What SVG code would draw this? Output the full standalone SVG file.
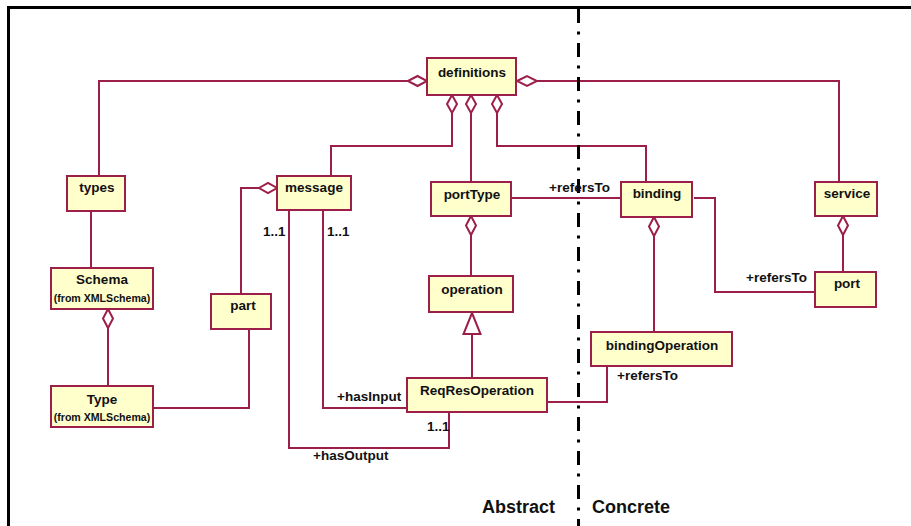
<svg xmlns="http://www.w3.org/2000/svg" width="911" height="526" viewBox="0 0 911 526">
  <style>
    .box { fill: #FFFFCC; stroke: #9C1F4A; stroke-width: 2; }
    .name { font-family: "Liberation Sans", Arial, sans-serif; font-weight: bold; font-size: 13.5px; fill: #111; text-anchor: middle; }
    .sub { font-family: "Liberation Sans", Arial, sans-serif; font-weight: bold; font-size: 10.6px; fill: #111; text-anchor: middle; }
    .lbl { font-family: "Liberation Sans", Arial, sans-serif; font-weight: bold; font-size: 13.5px; fill: #111; }
    .big { font-family: "Liberation Sans", Arial, sans-serif; font-weight: bold; font-size: 18px; fill: #111; }
    .wire { fill: none; stroke: #9C1F4A; stroke-width: 2; }
    .agg { fill: #FFFFFF; stroke: #9C1F4A; stroke-width: 2; }
  </style>
  <rect width="911" height="526" fill="#FFFFFF"/>

  <!-- connectors -->
  <g id="connectors">
    <!-- definitions aggregations -->
    <polyline class="wire" points="99,176 99,81 408,81"/>
    <polygon class="agg" points="408,81 417.5,76 427,81 417.5,86"/>
    <polyline class="wire" points="537,81 839,81 839,182"/>
    <polygon class="agg" points="517,81 527,76 537,81 527,86"/>
    <polyline class="wire" points="452,113 452,146 331,146 331,176"/>
    <polygon class="agg" points="452,95 457,104 452,113 447,104"/>
    <polyline class="wire" points="471,113 471,182"/>
    <polygon class="agg" points="471,95 476,104 471,113 466,104"/>
    <polyline class="wire" points="497,113 497,146 646,146 646,182"/>
    <polygon class="agg" points="497,95 502,104 497,113 492,104"/>

    <!-- types / schema side -->
    <polyline class="wire" points="91,211 91,268"/>
    <polyline class="wire" points="108,328 108,386"/>
    <polygon class="agg" points="108,309 113,318.5 108,328 103,318.5"/>
    <polyline class="wire" points="153,408 249,408 249,329"/>

    <!-- message -->
    <polyline class="wire" points="259,188 241,188 241,294"/>
    <polygon class="agg" points="259,188 268,183 277,188 268,193"/>
    <polyline class="wire" points="323,210 323,408 407,408"/>
    <polyline class="wire" points="289,210 289,448 449,448 449,412"/>

    <!-- portType / operation -->
    <polyline class="wire" points="471,235 471,276"/>
    <polygon class="agg" points="471,216 476,225.5 471,235 466,225.5"/>
    <polyline class="wire" points="472,334 472,378"/>
    <polygon class="agg" points="472,313 480.5,334 463.5,334"/>
    <polyline class="wire" points="511,198 621,198"/>

    <!-- binding -->
    <polyline class="wire" points="654,236 654,332"/>
    <polygon class="agg" points="654,217 659,226.5 654,236 649,226.5"/>
    <polyline class="wire" points="694,198 715,198 715,292 815,292"/>
    <polyline class="wire" points="547,402 607,402 607,366"/>

    <!-- service -->
    <polyline class="wire" points="843,235 843,272"/>
    <polygon class="agg" points="843,216 848,225.5 843,235 838,225.5"/>
  </g>

  <!-- nodes -->
  <g id="definitions">
    <rect class="box" x="427" y="58" width="89" height="37"/>
    <text class="name" x="472" y="77">definitions</text>
  </g>
  <g id="types">
    <rect class="box" x="67" y="176" width="58" height="35"/>
    <text class="name" x="97" y="192">types</text>
  </g>
  <g id="message">
    <rect class="box" x="277" y="176" width="74" height="34"/>
    <text class="name" x="314" y="192">message</text>
  </g>
  <g id="portType">
    <rect class="box" x="431" y="182" width="80" height="34"/>
    <text class="name" x="472" y="198.5">portType</text>
  </g>
  <g id="binding">
    <rect class="box" x="621" y="182" width="71" height="35"/>
    <text class="name" x="657" y="198">binding</text>
  </g>
  <g id="service">
    <rect class="box" x="815" y="182" width="62" height="34"/>
    <text class="name" x="847" y="198">service</text>
  </g>
  <g id="Schema">
    <rect class="box" x="51" y="268" width="102" height="41"/>
    <text class="name" x="102" y="284">Schema</text>
    <text class="sub" x="102" y="302">(from XMLSchema)</text>
  </g>
  <g id="Type">
    <rect class="box" x="51" y="386" width="102" height="41"/>
    <text class="name" x="102" y="403.5">Type</text>
    <text class="sub" x="102" y="421">(from XMLSchema)</text>
  </g>
  <g id="part">
    <rect class="box" x="211" y="294" width="60" height="35"/>
    <text class="name" x="243" y="310">part</text>
  </g>
  <g id="operation">
    <rect class="box" x="429" y="276" width="84" height="36"/>
    <text class="name" x="472" y="293.5">operation</text>
  </g>
  <g id="port">
    <rect class="box" x="815" y="272" width="61" height="35"/>
    <text class="name" x="847" y="288">port</text>
  </g>
  <g id="bindingOperation">
    <rect class="box" x="591" y="332" width="141" height="34"/>
    <text class="name" x="662" y="349.5">bindingOperation</text>
  </g>
  <g id="ReqResOperation">
    <rect class="box" x="407" y="378" width="140" height="34"/>
    <text class="name" x="477" y="395">ReqResOperation</text>
  </g>

  <!-- frame and abstract/concrete divider -->
  <g id="frame">
    <line x1="7" y1="7.5" x2="911" y2="7.5" stroke="#000" stroke-width="3"/>
    <line x1="8.5" y1="6" x2="8.5" y2="526" stroke="#000" stroke-width="3"/>
    <line x1="578.5" y1="9" x2="578.5" y2="526" stroke="#000" stroke-width="3" stroke-dasharray="14 8.5 3 8.5"/>
  </g>

  <!-- role and multiplicity labels -->
  <g id="labels">
    <text class="lbl" x="263" y="236">1..1</text>
    <text class="lbl" x="327" y="236">1..1</text>
    <text class="lbl" x="337" y="401">+hasInput</text>
    <text class="lbl" x="427" y="431">1..1</text>
    <text class="lbl" x="313" y="460">+hasOutput</text>
    <text class="lbl" x="549" y="192">+refersTo</text>
    <text class="lbl" x="617" y="380">+refersTo</text>
    <text class="lbl" x="746" y="282">+refersTo</text>
    <text class="big" x="482" y="513">Abstract</text>
    <text class="big" x="592" y="513">Concrete</text>
  </g>
</svg>
